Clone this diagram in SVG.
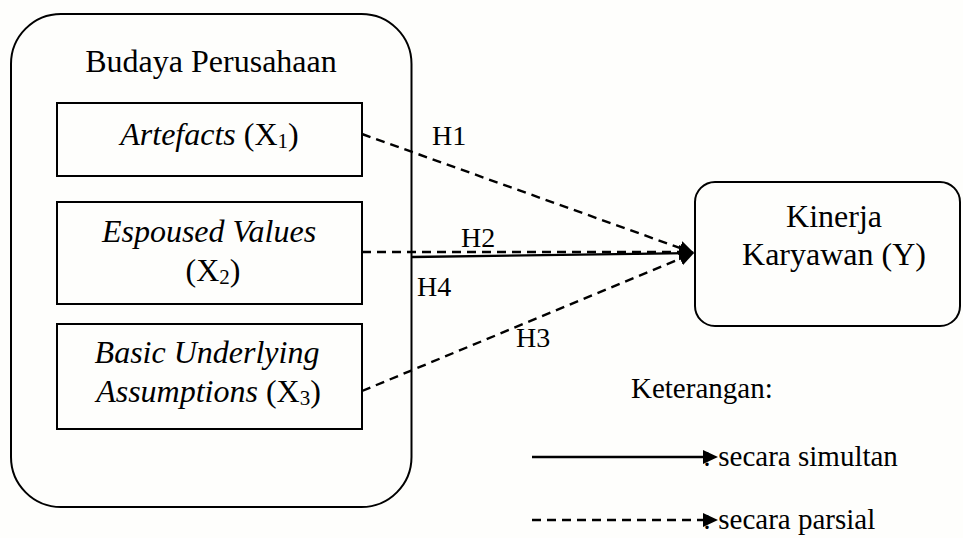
<svg xmlns="http://www.w3.org/2000/svg" width="963" height="538" viewBox="0 0 963 538">
<style>
.t{font-family:"Liberation Serif","Times New Roman",serif;font-size:32px;fill:#000}
.h{font-size:28px}
.l{font-size:29px}
.i{font-style:italic}
.box{fill:none;stroke:#000;stroke-width:2}
.dash{stroke:#000;stroke-width:2.4;stroke-dasharray:9 6;fill:none}
.solid{stroke:#000;stroke-width:2.4;fill:none}
.sub{font-size:21px}
</style>
<defs>
<marker id="ah" markerUnits="userSpaceOnUse" markerWidth="17" markerHeight="15" refX="9" refY="7" orient="auto"><path d="M0,0 L15,7 L0,14 z" fill="#000"/></marker>
</defs>
<rect x="0" y="0" width="963" height="538" fill="#fefefc"/>
<g id="budaya">
<rect class="box" x="11" y="14" width="400.5" height="493" rx="50" ry="50"/>
<text class="t" x="211" y="72" text-anchor="middle">Budaya Perusahaan</text>
</g>
<g id="x1">
<rect class="box" x="57" y="103" width="305" height="73"/>
<text class="t" x="209.5" y="145" text-anchor="middle"><tspan class="i">Artefacts</tspan> (X<tspan class="sub" dy="3">1</tspan><tspan dy="-3">)</tspan></text>
</g>
<g id="x2">
<rect class="box" x="57" y="202" width="305" height="102"/>
<text class="t i" x="209" y="242" text-anchor="middle">Espoused Values</text>
<text class="t" x="213" y="281" text-anchor="middle">(X<tspan class="sub" dy="3">2</tspan><tspan dy="-3">)</tspan></text>
</g>
<g id="x3">
<rect class="box" x="57" y="324" width="305" height="105"/>
<text class="t i" x="207" y="363" text-anchor="middle">Basic Underlying</text>
<text class="t" x="208.5" y="401.5" text-anchor="middle"><tspan class="i">Assumptions</tspan> (X<tspan class="sub" dy="3">3</tspan><tspan dy="-3">)</tspan></text>
</g>
<g id="y">
<rect class="box" x="695" y="182" width="265" height="144" rx="20" ry="20"/>
<text class="t" x="834" y="227" text-anchor="middle">Kinerja</text>
<text class="t" x="834" y="265" text-anchor="middle">Karyawan (Y)</text>
</g>
<g id="connectors">
<line class="dash" x1="362" y1="134" x2="688.4" y2="251" marker-end="url(#ah)"/>
<line class="dash" x1="362" y1="252" x2="688" y2="252" marker-end="url(#ah)"/>
<line class="solid" x1="412" y1="257" x2="688" y2="253.1" marker-end="url(#ah)"/>
<line class="dash" x1="362" y1="391" x2="688.5" y2="255.3" marker-end="url(#ah)"/>
<text class="t h" x="432" y="144.5">H1</text>
<text class="t h" x="461" y="247">H2</text>
<text class="t h" x="417" y="296">H4</text>
<text class="t h" x="516" y="347">H3</text>
</g>
<g id="legend">
<text class="t l" x="703" y="466">: secara simultan</text>
<text class="t l" x="703" y="529">: secara parsial</text>
<text class="t l" x="631" y="398">Keterangan:</text>
<line class="solid" x1="532" y1="457" x2="712" y2="457" marker-end="url(#ah)"/>
<line class="dash" x1="532" y1="520" x2="712" y2="520" marker-end="url(#ah)"/>
</g>
</svg>
